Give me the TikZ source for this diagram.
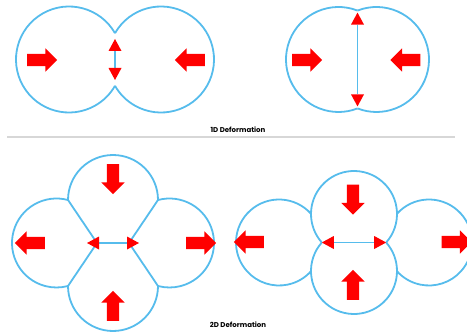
\documentclass[tikz,border=0pt]{standalone}
\usepackage{fontspec}
\setmainfont{Poppins}
\usetikzlibrary{shapes.arrows, arrows.meta}
\definecolor{CellBlue}{RGB}{86,188,236}
\definecolor{PushRed}{RGB}{255,0,0}
\definecolor{RuleGray}{RGB}{215,215,215}

\begin{document}
\begin{tikzpicture}[x=1pt, y=1pt,
    wall/.style={draw=CellBlue, line width=1.8pt},
    push/.style={single arrow, fill=PushRed, draw=none, inner xsep=0pt, inner ysep=6pt,
                 minimum height=30pt, minimum width=23pt,
                 single arrow head extend=5.5pt, single arrow tip angle=90},
    gap/.style={wall,
                {Triangle[length=12pt, width=13pt, color=PushRed, line width=0pt]}-{Triangle[length=12pt, width=13pt, color=PushRed, line width=0pt]}},
    caption/.style={font=\fontsize{7}{8}\selectfont\bfseries}
  ]
  \useasboundingbox (0,0) rectangle (467,333);
  \clip (0,0) rectangle (467,333);

  \draw[wall] (69,273.5) ++(29.8:53) arc[start angle=29.8, end angle=330.2, radius=53];
  \draw[wall] (161,273.5) ++(150.2:53) arc[start angle=150.2, end angle=-150.2, radius=53];
  \coordinate (tlTop) at (115,300);
  \coordinate (tlBot) at (115,247);
  \draw[gap, shorten <=6pt, shorten >=6pt] (tlTop) -- (tlBot);

  \draw[wall] (338.5,273.5) ++(68.8:52.5) arc[start angle=68.8, end angle=291.2, radius=52.5];
  \draw[wall] (376.5,273.5) ++(111.2:52.5) arc[start angle=111.2, end angle=-111.2, radius=52.5];
  \coordinate (trTop) at (357.5,322.4);
  \coordinate (trBot) at (357.5,224.6);
  \draw[gap, shorten <=2pt, shorten >=2pt] (trTop) -- (trBot);

  \coordinate (ruleL) at (7,196);
  \coordinate (ruleR) at (455,196);
  \draw[RuleGray, line width=1.2pt] (ruleL) -- (ruleR);
  \node[caption] (cap1) at (238,203) {1D Deformation};

  \draw[wall] (113,133) ++(0:45) arc[start angle=0, end angle=180, radius=45];
  \draw[wall] (113,47) ++(180:45) arc[start angle=180, end angle=360, radius=45];
  \draw[wall] (56.5,90) ++(75:44.5) arc[start angle=75, end angle=285, radius=44.5];
  \draw[wall] (169.5,90) ++(105:44.5) arc[start angle=105, end angle=-105, radius=44.5];
  \coordinate (blA) at (68,133);
  \coordinate (blB) at (158,133);
  \coordinate (blC) at (68,47);
  \coordinate (blD) at (158,47);
  \coordinate (blP) at (97,90);
  \coordinate (blQ) at (129,90);
  \draw[wall] (blA) -- (blP) -- (blC);
  \draw[wall] (blB) -- (blQ) -- (blD);
  \draw[gap, shorten <=-10pt, shorten >=-10pt] (blP) -- (blQ);

  \draw[wall] (354,119) ++(-41.5:43) arc[start angle=-41.5, end angle=221.5, radius=43];
  \draw[wall] (354,62) ++(138.5:43) arc[start angle=138.5, end angle=401.5, radius=43];
  \draw[wall] (279,90.5) ++(41.9:43) arc[start angle=41.9, end angle=318.1, radius=43];
  \draw[wall] (429,90.5) ++(138.1:43) arc[start angle=138.1, end angle=-138.1, radius=43];
  \coordinate (brL) at (321.8,90.5);
  \coordinate (brR) at (386.2,90.5);
  \draw[gap] (brL) -- (brR);

  \foreach \n/\x/\y/\r in {pushA/39/273/0, pushB/193/273/180,
      pushC/304/273/0, pushD/408.5/273/180,
      pushE/113/157/-90, pushF/33/90/180, pushG/198/90/0, pushH/113/24/90,
      pushI/353/136.5/-90, pushJ/252/91/180, pushK/453.5/91/0, pushL/353/45/90}{
    \node[push, rotate=\r] (\n) at (\x,\y) {};
  }

  \node[caption] (cap2) at (238,8) {2D Deformation};
\end{tikzpicture}
\end{document}
